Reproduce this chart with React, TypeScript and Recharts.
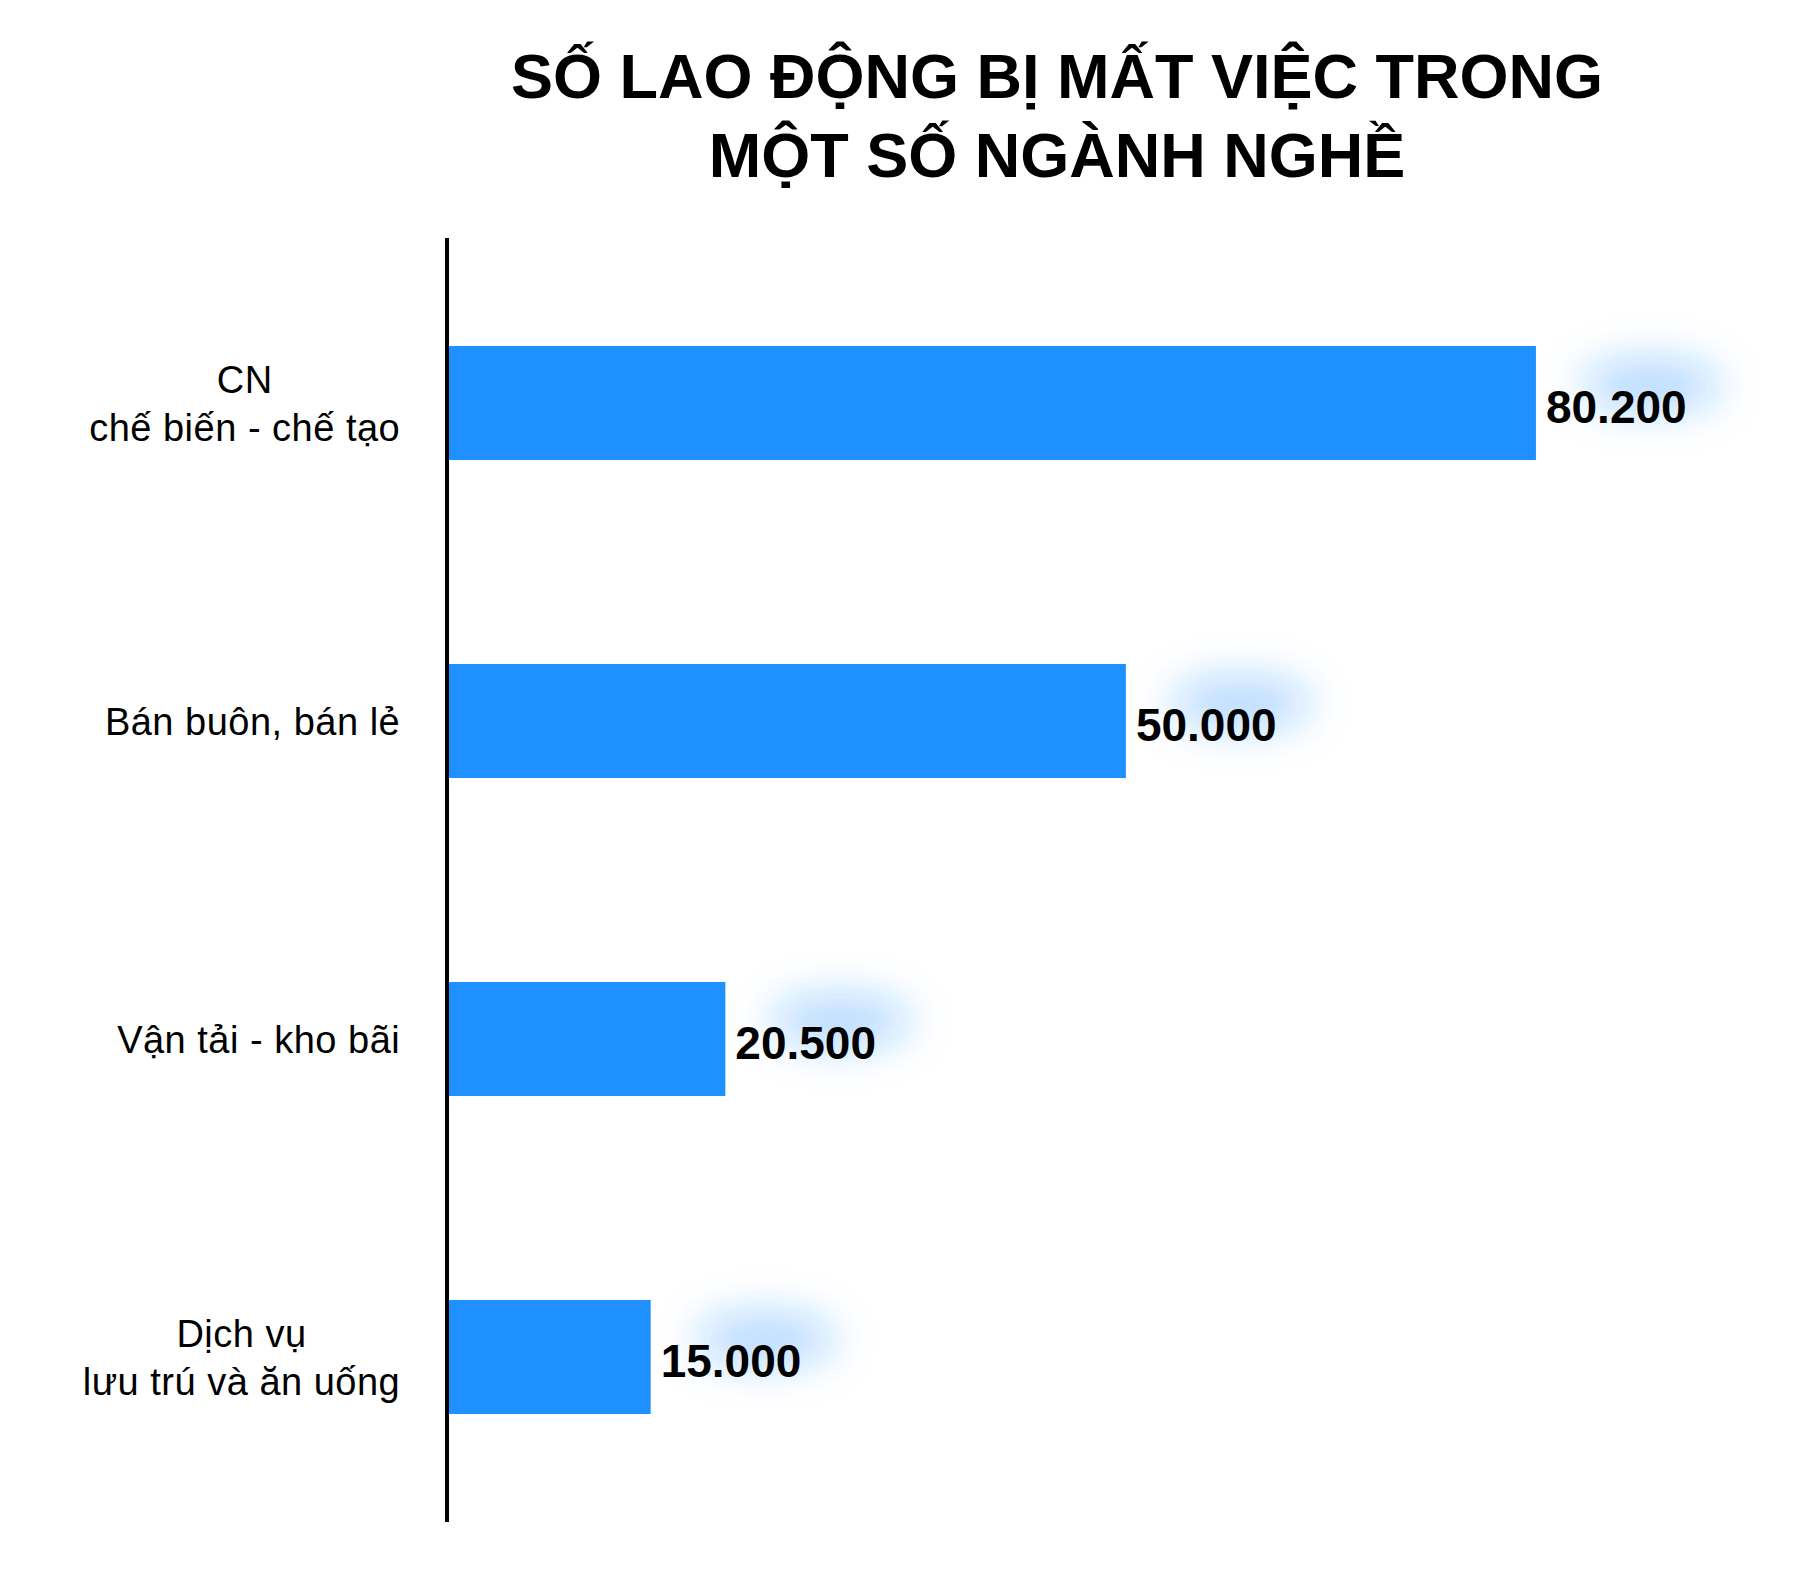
import React from 'react';
import { BarChart, Bar, XAxis, YAxis, LabelList } from 'recharts';

const categories = [
  'CN\nchế biến - chế tạo',
  'Bán buôn, bán lẻ',
  'Vận tải - kho bãi',
  'Dịch vụ\nlưu trú và ăn uống',
];
const workers = [80200, 50000, 20500, 15000];
const titleLines = ['SỐ LAO ĐỘNG BỊ MẤT VIỆC TRONG', 'MỘT SỐ NGÀNH NGHỀ'];

const data = categories.map((name, i) => ({ name, value: workers[i] }));

const FONT = '"Liberation Sans", Arial, Helvetica, sans-serif';
const LABEL_SIZE = 38;
const LABEL_SPACING = 0.5;

let ctx: CanvasRenderingContext2D | null = null;
function textWidth(s: string) {
  if (!ctx) ctx = document.createElement('canvas').getContext('2d');
  ctx!.font = `${LABEL_SIZE}px ${FONT}`;
  return ctx!.measureText(s).width + LABEL_SPACING * s.length;
}

const formatNum = (v: number) => String(v).replace(/\B(?=(\d{3})+(?!\d))/g, '.');

function CategoryTick({ x, y, payload }: any) {
  const lines = String(payload.value).split('\n');
  const maxW = Math.max(...lines.map(textWidth));
  // labels end ~48px left of the axis line
  const right = x - 39;
  const cx = right - maxW / 2 + LABEL_SPACING / 2;
  const lh = 48;
  const capH = LABEL_SIZE * 0.716;
  return (
    <g>
      {lines.map((line, i) => (
        <text
          key={i}
          x={cx}
          y={y + (i - (lines.length - 1) / 2) * lh + capH / 2}
          textAnchor="middle"
          fontFamily={FONT}
          fontSize={LABEL_SIZE}
          letterSpacing={LABEL_SPACING}
          fill="#000"
        >
          {line}
        </text>
      ))}
    </g>
  );
}

function ValueLabel({ x, y, width, height, value }: any) {
  const tx = x + width + 10;
  const cy = y + height / 2;
  const txt = formatNum(Number(value));
  return (
    <g>
      {/* soft blue glow behind the number */}
      <ellipse
        cx={tx + 105}
        cy={cy - 18}
        rx={70}
        ry={26}
        fill="#1e90ff"
        fillOpacity={0.33}
        filter="url(#glow)"
      />
      <text x={tx} y={cy + 20} fontFamily={FONT} fontSize={46} fontWeight="bold" fill="#000">
        {txt}
      </text>
    </g>
  );
}

export default function App() {
  return (
    <div
      style={{
        position: 'absolute',
        left: 0,
        top: 0,
        width: 1800,
        height: 1580,
        background: '#fff',
        fontFamily: FONT,
      }}
    >
      <svg width={0} height={0} style={{ position: 'absolute' }}>
        <defs>
          <filter id="glow" x="-100%" y="-400%" width="300%" height="900%">
            <feGaussianBlur stdDeviation="20" />
          </filter>
        </defs>
      </svg>
      <div
        style={{
          position: 'absolute',
          top: 37,
          left: 357,
          width: 1400,
          textAlign: 'center',
          fontSize: 63,
          fontWeight: 'bold',
          lineHeight: '79px',
          color: '#000',
        }}
      >
        {titleLines.map((t) => (
          <div key={t}>{t}</div>
        ))}
      </div>
      <BarChart
        width={1800}
        height={1580}
        data={data}
        layout="vertical"
        margin={{ top: 238, right: 131, bottom: 58, left: 0 }}
      >
        <XAxis type="number" domain={[0, 90000]} hide />
        <YAxis
          type="category"
          dataKey="name"
          width={447}
          interval={0}
          tickLine={false}
          axisLine={{ stroke: '#000', strokeWidth: 4 }}
          tick={<CategoryTick />}
          padding={{ top: 6, bottom: 6 }}
        />
        <Bar dataKey="value" fill="#1e90ff" barSize={114} isAnimationActive={false}>
          <LabelList dataKey="value" content={<ValueLabel />} />
        </Bar>
      </BarChart>
    </div>
  );
}
